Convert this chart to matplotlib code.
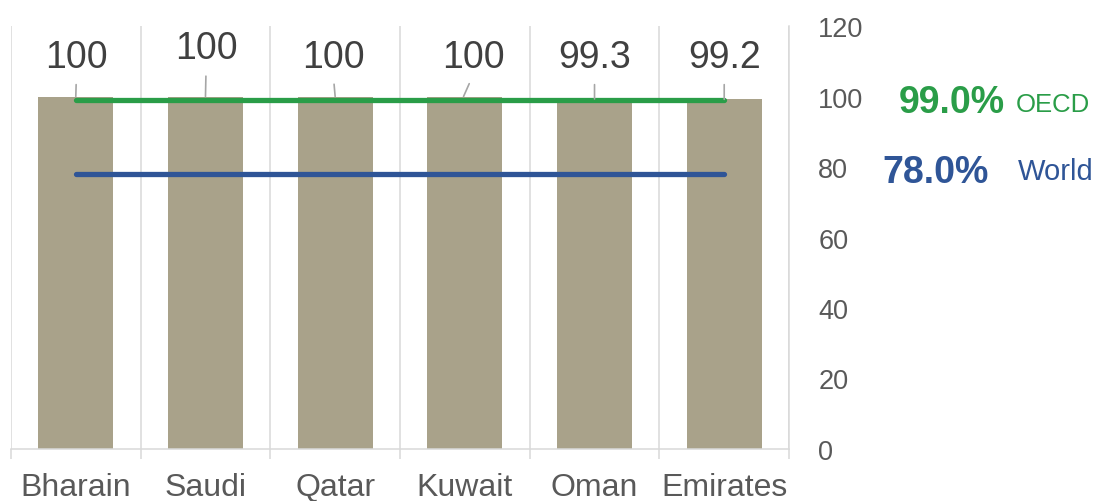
import matplotlib.pyplot as plt
import numpy as np

# data
countries = ['Bharain', 'Saudi', 'Qatar', 'Kuwait', 'Oman', 'Emirates']
values = [100, 100, 100, 100, 99.3, 99.2]
value_labels = ['100', '100', '100', '100', '99.3', '99.2']
oecd = 99.0
world = 78.0
y_ticks = [0, 20, 40, 60, 80, 100, 120]

# colours
bar_color = '#A9A28A'
green = '#2A9D48'
blue = '#2F5597'
grid_color = '#D9D9D9'
text_color = '#404040'
tick_color = '#595959'

plt.rcParams['font.family'] = ['Liberation Sans', 'DejaVu Sans']

fig = plt.figure(figsize=(11.17, 5.02), dpi=100)
ax = fig.add_axes([0.0098, 0.1036, 0.6966, 0.8426])

x = np.arange(len(countries))
ax.bar(x, values, width=0.58, color=bar_color, zorder=2)

# reference lines from first to last bar centre
ax.plot([x[0], x[-1]], [oecd, oecd], color=green, lw=3.8, solid_capstyle='round', zorder=3)
ax.plot([x[0], x[-1]], [world, world], color=blue, lw=3.8, solid_capstyle='round', zorder=3)

# data labels with leader lines (label positions offset like the original)
lab_x = [0.005, 1.005, 1.985, 3.065, 4.0, 5.0]
lab_y = [108.4, 110.8, 108.5, 108.5, 108.4, 108.4]
leader_x = [0.0, 1.0, 2.0, 2.99, 4.0, 5.0]
for i in range(len(values)):
    ax.annotate(value_labels[i], xy=(leader_x[i], values[i]), xytext=(lab_x[i], lab_y[i]),
                ha='center', va='baseline', fontsize=27, color=text_color,
                arrowprops=dict(arrowstyle='-', color='#A6A6A6', lw=1.2,
                                relpos=(0.5, 0.0), shrinkA=5, shrinkB=0),
                zorder=4, annotation_clip=False)

# right-hand notes
ax.text(6.344, 95.6, f'{oecd:.1f}%', color=green, fontsize=27, fontweight='bold',
        va='baseline', ha='left', clip_on=False)
ax.text(7.247, 96.0, 'OECD', color=green, fontsize=18.5, va='baseline', ha='left', clip_on=False)
ax.text(6.22, 75.7, f'{world:.1f}%', color=blue, fontsize=27, fontweight='bold',
        va='baseline', ha='left', clip_on=False)
ax.text(7.262, 76.6, 'World', color=blue, fontsize=21, va='baseline', ha='left', clip_on=False)

ax.set_xlim(-0.5, len(countries) - 0.5)
ax.set_ylim(0, 120)

# y axis on the right
ax.yaxis.tick_right()
ax.set_yticks(y_ticks)
for lab in ax.get_yticklabels():
    lab.set_horizontalalignment('left')
ax.tick_params(axis='y', length=0, pad=21, labelsize=19.5, labelcolor=tick_color)

# category labels and boundary ticks / gridlines
ax.set_xticks(x)
ax.set_xticklabels(countries)
ax.set_xticks(np.arange(-0.5, len(countries)), minor=True)
ax.tick_params(axis='x', which='major', length=0, pad=16.5, labelsize=23, labelcolor=tick_color)
ax.tick_params(axis='x', which='minor', length=7.5, width=1.1, color=grid_color)
ax.grid(axis='x', which='minor', color=grid_color, lw=1.1, zorder=0)

for side in ['top', 'left']:
    ax.spines[side].set_visible(False)
ax.spines['right'].set_color(grid_color)
ax.spines['right'].set_linewidth(1.1)
ax.spines['bottom'].set_color(grid_color)
ax.spines['bottom'].set_linewidth(1.1)

fig.savefig('out.png', dpi=100)
